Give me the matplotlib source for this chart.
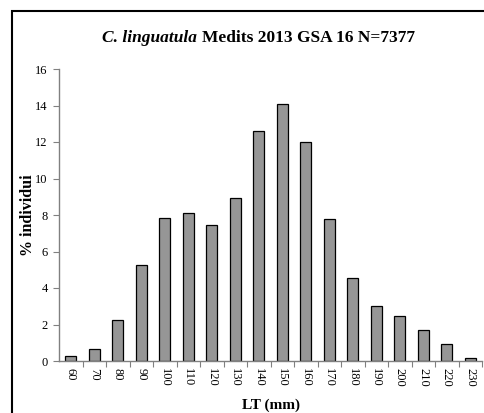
import matplotlib
matplotlib.use("Agg")
import matplotlib.pyplot as plt
from matplotlib.patches import Rectangle

# classi di lunghezza (mm) e percentuale di individui
lt_classes = [60, 70, 80, 90, 100, 110, 120, 130, 140, 150,
              160, 170, 180, 190, 200, 210, 220, 230]
pct_individui = [0.3, 0.65, 2.25, 5.25, 7.85, 8.1, 7.45, 8.95, 12.6, 14.1,
                 12.0, 7.8, 4.55, 3.0, 2.45, 1.7, 0.95, 0.15]
y_ticks = [0, 2, 4, 6, 8, 10, 12, 14, 16]

plt.rcParams["font.family"] = ["Liberation Serif", "DejaVu Serif"]

fig = plt.figure(figsize=(4.84, 4.13), dpi=100)
ax = fig.add_axes([59 / 484, 1 - 361 / 413, (482 - 59) / 484, (361 - 69) / 413])

x = list(range(len(lt_classes)))
ax.bar(x, pct_individui, width=0.48, color="#969696", edgecolor="black", linewidth=0.9)

ax.set_xlim(-0.5, len(lt_classes) - 0.5)
ax.set_ylim(0, 16)
ax.set_yticks(y_ticks)
ax.set_yticklabels([str(v) for v in y_ticks], fontsize=9)

ax.set_xticks(x)
ax.set_xticklabels([str(v) for v in lt_classes], rotation=-90, fontsize=9)
ax.set_xticks([i + 0.5 for i in x], minor=True)
ax.tick_params(axis="x", which="major", length=0, pad=5)
ax.tick_params(axis="x", which="minor", length=4, width=0.8, color="#808080", direction="out")
ax.tick_params(axis="y", length=4, width=0.8, color="#808080", direction="out", pad=4)

for side in ["top", "right"]:
    ax.spines[side].set_visible(False)
for side in ["left", "bottom"]:
    ax.spines[side].set_color("#808080")
    ax.spines[side].set_linewidth(1.0)

ax.set_ylabel("% individui", fontsize=11.5, fontweight="bold")
ax.yaxis.set_label_coords(-0.054, 0.5)
ax.set_xlabel("LT (mm)", fontsize=11, fontweight="bold")
ax.xaxis.set_label_coords(0.5, -0.127)

# titolo: nome specie in corsivo
fig.text(197 / 484, 1 - 41.5 / 413, "C. linguatula", fontsize=12.5, fontweight="bold",
         style="italic", ha="right", va="baseline")
fig.text(202 / 484, 1 - 41.5 / 413, "Medits 2013 GSA 16 N=7377", fontsize=12.5,
         fontweight="bold", ha="left", va="baseline")

# cornice del grafico
fig.patches.append(Rectangle((12 / 484, -0.1), 1.0, 1 - 11 / 413 + 0.1,
                             transform=fig.transFigure, fill=False,
                             edgecolor="black", linewidth=1.5))

fig.savefig("out.png", dpi=100)
